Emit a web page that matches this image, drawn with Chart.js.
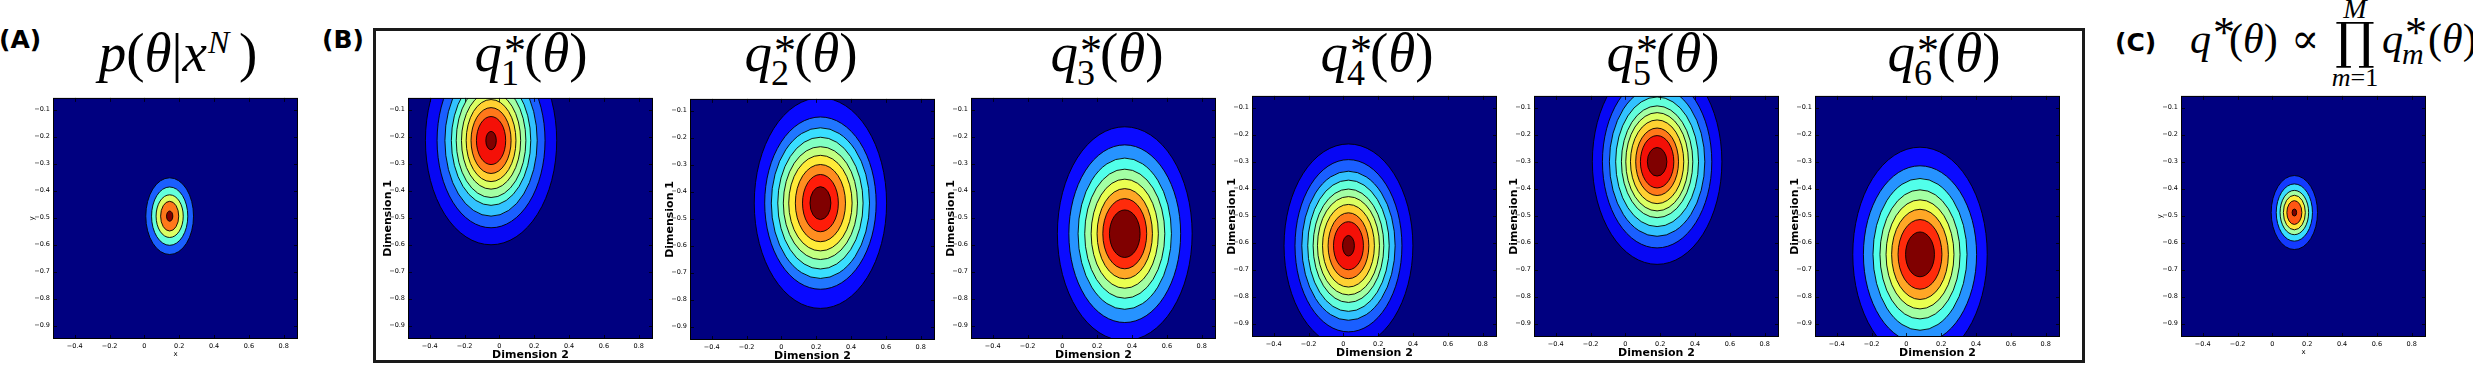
<!DOCTYPE html>
<html lang="en">
<head>
<meta charset="UTF-8">
<title>Posterior contours</title>
<script src="https://cdn.jsdelivr.net/npm/chart.js"></script>
<style>
  body {
    margin: 0;
    width: 2473px;
    height: 365px;
    background: #fff;
    position: relative;
    overflow: hidden;
    font-family: "DejaVu Sans", sans-serif;
  }
  .tag {
    position: absolute;
    font-family: "DejaVu Sans", sans-serif;
    font-weight: bold;
    font-size: 25px;
    line-height: 1;
    color: #000;
  }
  .frame {
    position: absolute;
    left: 373px;
    top: 28px;
    width: 1712px;
    height: 335px;
    border: 3px solid #1a1a1a;
    box-sizing: border-box;
  }
  .math {
    position: absolute;
    font-family: "Liberation Serif", "DejaVu Serif", serif;
    font-size: 55px;
    line-height: 55px;
    white-space: nowrap;
    color: #000;
  }
  .mid { transform: translateX(-50%); }
  .math i { font-style: italic; }
  .ss {
    display: inline-block;
    position: relative;
    height: 0;
  }
  .ss > span {
    position: absolute;
    line-height: 1;
    white-space: nowrap;
  }
  .st { font-size: 44px; top: -42px; left: 2px; }
  .sb { font-size: 36px; top: -16px; left: -1px; }
  .sn { font-size: 32px; top: -45px; left: 1px; }
  .small { font-size: 42px; line-height: 42px; }
</style>
</head>
<body>
  <div class="tag" style="left:-1px; top:27px">(A)</div>
  <div class="tag" style="left:322px; top:27px">(B)</div>
  <div class="tag" style="left:2115px; top:30px">(C)</div>
  <div class="frame"></div>

  <div class="math mid" style="left:178px; top:25px"><i>p</i>(<i>θ</i>|<i>x</i><span class="ss" style="width:32px"><span class="sn"><i>N</i></span></span>)</div>
  <div class="math mid" style="left:531px; top:25px"><i>q</i><span class="ss" style="width:22px"><span class="st">*</span><span class="sb">1</span></span>(<i>θ</i>)</div>
  <div class="math mid" style="left:801px; top:25px"><i>q</i><span class="ss" style="width:22px"><span class="st">*</span><span class="sb">2</span></span>(<i>θ</i>)</div>
  <div class="math mid" style="left:1107px; top:25px"><i>q</i><span class="ss" style="width:22px"><span class="st">*</span><span class="sb">3</span></span>(<i>θ</i>)</div>
  <div class="math mid" style="left:1377px; top:25px"><i>q</i><span class="ss" style="width:22px"><span class="st">*</span><span class="sb">4</span></span>(<i>θ</i>)</div>
  <div class="math mid" style="left:1663px; top:25px"><i>q</i><span class="ss" style="width:22px"><span class="st">*</span><span class="sb">5</span></span>(<i>θ</i>)</div>
  <div class="math mid" style="left:1944px; top:25px"><i>q</i><span class="ss" style="width:22px"><span class="st">*</span><span class="sb">6</span></span>(<i>θ</i>)</div>

  <div class="math small" style="left:2190px; top:18px"><i>q</i><span class="ss" style="width:18px"><span class="st">*</span></span>(<i>θ</i>)</div>
  <div class="math small" style="left:2291px; top:18px">∝</div>
  <div class="math mid" style="left:2355px; top:-5px; font-size:28px; line-height:28px"><i>M</i></div>
  <div class="math mid" style="left:2355px; top:16px; font-size:50px; line-height:50px; font-family:'DejaVu Serif', serif">∏</div>
  <div class="math mid" style="left:2355px; top:65px; font-size:26px; line-height:26px"><i>m</i>=1</div>
  <div class="math small" style="left:2382px; top:18px"><i>q</i><span class="ss" style="width:25px"><span class="st">*</span><span class="sb" style="top:-14px; font-size:30px"><i>m</i></span></span>(<i>θ</i>)</div>

  <script>
    // axis ticks shared by every panel
    const xTicks = [-0.4, -0.2, 0, 0.2, 0.4, 0.6, 0.8];
    const xTickLabels = ['−0.4', '−0.2', '0', '0.2', '0.4', '0.6', '0.8'];
    const yTicks = [-0.9, -0.8, -0.7, -0.6, -0.5, -0.4, -0.3, -0.2, -0.1];
    const yTickLabels = ['−0.9', '−0.8', '−0.7', '−0.6', '−0.5', '−0.4', '−0.3', '−0.2', '−0.1'];
    const X_MIN = -0.525, X_MAX = 0.882;
    const Y_MIN = -0.95, Y_MAX = -0.057;

    // panels: posterior, six subposteriors, combined
    const panelIds = ['A', 'q1', 'q2', 'q3', 'q4', 'q5', 'q6', 'C'];
    const centreX = [0.145, -0.048, 0.224, 0.358, 0.029, 0.182, 0.078, 0.126];
    const centreY = [-0.495, -0.215, -0.443, -0.560, -0.612, -0.301, -0.644, -0.489];

    // contour half-widths (x) and half-heights (y), outermost level first
    const rxA = [0.137, 0.104, 0.078, 0.052, 0.018];
    const ryA = [0.142, 0.108, 0.079, 0.055, 0.019];
    const rxQ1 = [0.377, 0.310, 0.265, 0.228, 0.200, 0.170, 0.143, 0.115, 0.084, 0.030];
    const ryQ1 = [0.386, 0.323, 0.280, 0.240, 0.211, 0.180, 0.152, 0.122, 0.089, 0.034];
    const rxQ2 = [0.380, 0.320, 0.282, 0.245, 0.213, 0.182, 0.144, 0.103, 0.060];
    const ryQ2 = [0.390, 0.319, 0.279, 0.244, 0.209, 0.177, 0.143, 0.106, 0.061];
    const rxQ3 = [0.387, 0.321, 0.268, 0.230, 0.193, 0.159, 0.126, 0.088];
    const ryQ3 = [0.396, 0.329, 0.280, 0.239, 0.202, 0.167, 0.130, 0.088];
    const rxQ4 = [0.370, 0.307, 0.268, 0.234, 0.203, 0.178, 0.149, 0.117, 0.086, 0.034];
    const ryQ4 = [0.377, 0.319, 0.276, 0.243, 0.210, 0.182, 0.153, 0.122, 0.089, 0.038];
    const rxQ5 = [0.372, 0.314, 0.274, 0.238, 0.205, 0.180, 0.153, 0.123, 0.096, 0.056];
    const ryQ5 = [0.380, 0.319, 0.276, 0.240, 0.207, 0.182, 0.155, 0.125, 0.097, 0.053];
    const rxQ6 = [0.386, 0.325, 0.270, 0.230, 0.195, 0.163, 0.126, 0.083];
    const ryQ6 = [0.397, 0.328, 0.281, 0.239, 0.202, 0.167, 0.129, 0.083];
    const rxC = [0.133, 0.104, 0.082, 0.063, 0.043, 0.013];
    const ryC = [0.137, 0.106, 0.082, 0.064, 0.044, 0.013];

    const radiiX = [rxA, rxQ1, rxQ2, rxQ3, rxQ4, rxQ5, rxQ6, rxC];
    const radiiY = [ryA, ryQ1, ryQ2, ryQ3, ryQ4, ryQ5, ryQ6, ryC];

    // page layout (pixel position of each plot area)
    const plotLeft = [53, 408, 690, 971, 1252, 1534, 1815, 2181];
    const plotTop = [95, 95, 96, 95, 93, 93, 93, 93];
    const PLOT_W = 245, PLOT_H = 244;

    // matplotlib "jet", mid tones washed out a little like the source image
    function jet(t) {
      const seg = pts => {
        for (let i = 1; i < pts.length; i++) {
          if (t <= pts[i][0]) {
            const [x0, y0] = pts[i - 1], [x1, y1] = pts[i];
            return y0 + (y1 - y0) * (t - x0) / (x1 - x0);
          }
        }
        return pts[pts.length - 1][1];
      };
      const r = seg([[0, 0], [0.35, 0], [0.66, 1], [0.89, 1], [1, 0.5]]);
      const g = seg([[0, 0], [0.125, 0], [0.375, 1], [0.64, 1], [0.91, 0], [1, 0]]);
      const b = seg([[0, 0.5], [0.11, 1], [0.34, 1], [0.65, 0], [1, 0]]);
      const w = 0.3 * Math.pow(Math.sin(Math.PI * t), 2);
      const c = v => Math.round((v + (1 - v) * w) * 255);
      return `rgb(${c(r)},${c(g)},${c(b)})`;
    }

    const contourPlugin = {
      id: 'contours',
      beforeDatasetsDraw(chart) {
        const { ctx, chartArea: a, scales: { x, y } } = chart;
        ctx.save();
        ctx.beginPath();
        ctx.rect(a.left, a.top, a.width, a.height);
        ctx.clip();
        ctx.fillStyle = jet(0);
        ctx.fillRect(a.left, a.top, a.width, a.height);
        chart.data.datasets.forEach(ds => {
          const p = ds.data[0];
          const px = x.getPixelForValue(p.x);
          const py = y.getPixelForValue(p.y);
          const rx = x.getPixelForValue(p.x + p.rx) - px;
          const ry = py - y.getPixelForValue(p.y + p.ry);
          ctx.beginPath();
          ctx.ellipse(px, py, rx, ry, 0, 0, Math.PI * 2);
          ctx.fillStyle = ds.backgroundColor;
          ctx.fill();
          ctx.lineWidth = 0.9;
          ctx.strokeStyle = '#000';
          ctx.stroke();
        });
        ctx.restore();
      },
      afterDraw(chart) {
        const { ctx, chartArea: a, scales: { x, y } } = chart;
        ctx.save();
        ctx.strokeStyle = '#000';
        ctx.lineWidth = 0.8;
        ctx.beginPath();
        xTicks.forEach(v => {
          const px = Math.round(x.getPixelForValue(v)) + 0.5;
          ctx.moveTo(px, a.bottom); ctx.lineTo(px, a.bottom - 4);
          ctx.moveTo(px, a.top); ctx.lineTo(px, a.top + 4);
        });
        yTicks.forEach(v => {
          const py = Math.round(y.getPixelForValue(v)) + 0.5;
          ctx.moveTo(a.left, py); ctx.lineTo(a.left + 4, py);
          ctx.moveTo(a.right, py); ctx.lineTo(a.right - 4, py);
        });
        ctx.stroke();
        ctx.lineWidth = 1;
        ctx.strokeRect(a.left + 0.5, a.top + 0.5, a.width - 1, a.height - 1);
        ctx.restore();
      }
    };

    const tickFont = { family: 'DejaVu Sans', size: 6.5 };

    panelIds.forEach((id, p) => {
      const dim = id !== 'A' && id !== 'C';
      const yW = 30, xH = dim ? 24 : 20;
      const padTop = 4, padRight = 6;
      const canvas = document.createElement('canvas');
      canvas.width = yW + PLOT_W + padRight;
      canvas.height = padTop + PLOT_H + xH;
      canvas.style.position = 'absolute';
      canvas.style.left = (plotLeft[p] - yW) + 'px';
      canvas.style.top = (plotTop[p] - padTop) + 'px';
      document.body.appendChild(canvas);

      const n = radiiX[p].length;
      const datasets = radiiX[p].map((rx, k) => ({
        label: id + ' level ' + (k + 1),
        data: [{ x: centreX[p], y: centreY[p], rx: rx, ry: radiiY[p][k] }],
        backgroundColor: jet((k + 1) / n),
        pointRadius: 0
      }));

      const titleFont = dim
        ? { family: 'DejaVu Sans', size: 11, weight: 'bold' }
        : { family: 'DejaVu Sans', size: 7 };

      new Chart(canvas, {
        type: 'scatter',
        data: { datasets: datasets },
        options: {
          responsive: false,
          animation: false,
          events: [],
          layout: { padding: { top: padTop, right: padRight, left: 0, bottom: 0 } },
          plugins: { legend: { display: false }, tooltip: { enabled: false } },
          scales: {
            x: {
              type: 'linear',
              min: X_MIN,
              max: X_MAX,
              afterBuildTicks: s => { s.ticks = xTicks.map(v => ({ value: v })); },
              afterFit: s => { s.height = xH; },
              grid: { display: false, drawTicks: false },
              border: { display: false },
              ticks: {
                font: tickFont, color: '#000', padding: 3, autoSkip: false, maxRotation: 0,
                callback: (v, i) => xTickLabels[i]
              },
              title: {
                display: true, text: dim ? 'Dimension 2' : 'x',
                font: titleFont, color: '#000', padding: { top: 0, bottom: 1 }
              }
            },
            y: {
              type: 'linear',
              min: Y_MIN,
              max: Y_MAX,
              afterBuildTicks: s => { s.ticks = yTicks.map(v => ({ value: v })); },
              afterFit: s => { s.width = yW; },
              grid: { display: false, drawTicks: false },
              border: { display: false },
              ticks: {
                font: tickFont, color: '#000', padding: 3, autoSkip: false,
                callback: (v, i) => yTickLabels[i]
              },
              title: {
                display: true, text: dim ? 'Dimension 1' : 'y',
                font: titleFont, color: '#000', padding: { top: dim ? 4 : 5, bottom: 0 }
              }
            }
          }
        },
        plugins: [contourPlugin]
      });
    });
  </script>
</body>
</html>
